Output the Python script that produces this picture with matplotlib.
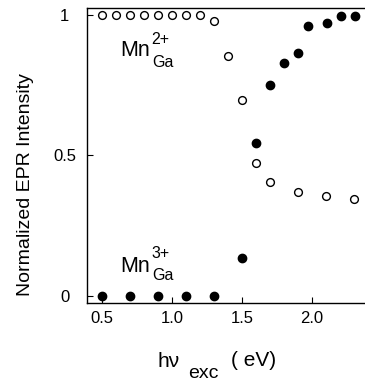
import matplotlib
matplotlib.use('Agg')
import matplotlib.pyplot as plt

# Mn2+ (open circles)
x_mn2 = [0.5, 0.6, 0.7, 0.8, 0.9, 1.0, 1.1, 1.2, 1.3, 1.4, 1.5, 1.6, 1.7, 1.9, 2.1, 2.3]
y_mn2 = [1.0, 1.0, 1.0, 1.0, 1.0, 1.0, 1.0, 1.0, 0.98, 0.854, 0.696, 0.475, 0.404, 0.371, 0.357, 0.346]
# Mn3+ (filled circles)
x_mn3 = [0.5, 0.7, 0.9, 1.1, 1.3, 1.5, 1.6, 1.7, 1.8, 1.9, 1.97, 2.11, 2.21, 2.31]
y_mn3 = [0.0, 0.0, 0.0, 0.0, 0.0, 0.136, 0.543, 0.75, 0.83, 0.864, 0.96, 0.97, 0.996, 0.996]

xticks = [0.5, 1.0, 1.5, 2.0]
xticklabels = ['0.5', '1.0', '1.5', '2.0']
yticks = [0, 0.5, 1]
yticklabels = ['0', '0.5', '1']

plt.rcParams['font.family'] = ['Liberation Sans', 'DejaVu Sans']

fig = plt.figure(figsize=(3.65, 3.83), dpi=100)
ax = fig.add_axes([0.238, 0.209, 0.762, 0.770])

ax.plot(x_mn2, y_mn2, 'o', mfc='white', mec='black', mew=1.0, ms=5.6, ls='none')
ax.plot(x_mn3, y_mn3, 'o', mfc='black', mec='black', ms=6.0, ls='none')

ax.set_xlim(0.393, 2.38)
ax.set_ylim(-0.025, 1.025)
ax.set_xticks(xticks)
ax.set_xticklabels(xticklabels)
ax.set_yticks(yticks)
ax.set_yticklabels(yticklabels, ha='center')
ax.tick_params(direction='in', length=4, width=0.8, labelsize=12)
ax.tick_params(axis='x', pad=6)
ax.tick_params(axis='y', pad=16)
ax.spines['right'].set_visible(False)
for s in ['left', 'bottom', 'top']:
    ax.spines[s].set_linewidth(1.0)

ax.set_ylabel('Normalized EPR Intensity', fontsize=14)
ax.yaxis.set_label_coords(-0.19, 0.40)

# species labels: main text + superscript + subscript
ax.text(0.635, 0.854, 'Mn', fontsize=15.5, va='baseline')
ax.annotate('2+', xy=(0.635, 0.854), xytext=(22.3, 8.6), textcoords='offset points',
            fontsize=11.5, va='baseline')
ax.annotate('Ga', xy=(0.635, 0.854), xytext=(23.0, -8.0), textcoords='offset points',
            fontsize=11.5, va='baseline')

ax.text(0.635, 0.086, 'Mn', fontsize=15.5, va='baseline')
ax.annotate('3+', xy=(0.635, 0.086), xytext=(22.3, 10.0), textcoords='offset points',
            fontsize=11.5, va='baseline')
ax.annotate('Ga', xy=(0.635, 0.086), xytext=(23.0, -6.0), textcoords='offset points',
            fontsize=11.5, va='baseline')

fig.text(0.493, 0.042, 'hν', fontsize=15, ha='right', va='baseline')
fig.text(0.515, 0.014, 'exc', fontsize=14, ha='left', va='baseline')
fig.text(0.632, 0.045, '( eV)', fontsize=15, ha='left', va='baseline')

fig.savefig('out.png', dpi=100)
